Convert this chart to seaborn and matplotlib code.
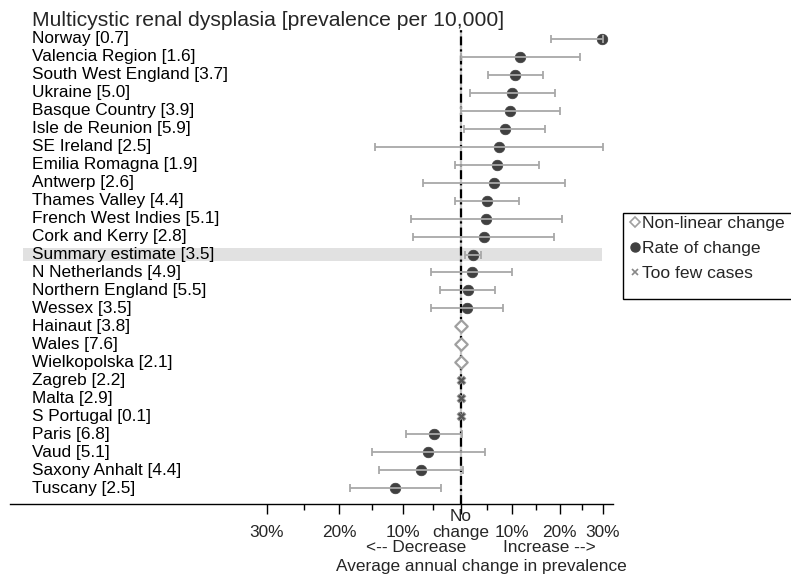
import numpy as np
import pandas as pd
import matplotlib
matplotlib.use("Agg")
import matplotlib.pyplot as plt
from matplotlib.lines import Line2D
from matplotlib.patches import Rectangle
from matplotlib.transforms import blended_transform_factory
import seaborn as sns

# Registries, with prevalence per 10,000 shown in brackets
regions = ["Norway", "Valencia Region", "South West England", "Ukraine",
           "Basque Country", "Isle de Reunion", "SE Ireland", "Emilia Romagna",
           "Antwerp", "Thames Valley", "French West Indies", "Cork and Kerry",
           "Summary estimate", "N Netherlands", "Northern England", "Wessex",
           "Hainaut", "Wales", "Wielkopolska", "Zagreb", "Malta", "S Portugal",
           "Paris", "Vaud", "Saxony Anhalt", "Tuscany"]
prevalence = [0.7, 1.6, 3.7, 5.0, 3.9, 5.9, 2.5, 1.9, 2.6, 4.4, 5.1, 2.8, 3.5,
              4.9, 5.5, 3.5, 3.8, 7.6, 2.1, 2.2, 2.9, 0.1, 6.8, 5.1, 4.4, 2.5]
kind = (["Rate of change"] * 16 + ["Non-linear change"] * 3
        + ["Too few cases"] * 3 + ["Rate of change"] * 4)

# Average annual change in prevalence (%) with 95% interval
change = [29.8, 11.6, 10.6, 10.0, 9.5, 8.5, 7.3, 6.9, 6.4, 4.9, 4.8, 4.4, 2.4,
          2.1, 1.3, 1.2, 0.0, 0.0, 0.0, 0.0, 0.0, 0.0, -4.7, -5.8, -7.1, -11.3]
lower = [18.1, 0.0, 5.1, 1.7, 0.0, 0.7, -14.6, -1.1, -6.6, -1.0, -8.7, -8.3, 0.8,
         -5.3, -3.7, -5.3, np.nan, np.nan, np.nan, np.nan, np.nan, np.nan,
         -9.5, -15.1, -14.0, -18.4]
upper = [30.0, 24.5, 16.5, 18.9, 20.0, 16.9, 30.0, 15.6, 21.2, 11.4, 20.6, 18.8, 3.9,
         10.0, 6.6, 8.1, np.nan, np.nan, np.nan, np.nan, np.nan, np.nan,
         0.2, 4.6, 0.4, -3.5]

tick_pct = [-30, -20, -10, 0, 10, 20, 30]
tick_labels = ["30%", "20%", "10%", "No\nchange", "10%", "20%", "30%"]
minor_pct = [-25, -15, -5, 5, 15, 25]

sns.set_style("white")
plt.rcParams["font.family"] = ["Liberation Sans", "DejaVu Sans"]

FS = 12.4

df = pd.DataFrame({"region": regions, "prev": prevalence, "kind": kind,
                   "change": change, "lower": lower, "upper": upper})
df["row"] = np.arange(len(df))
# changes are plotted on the log ratio scale
df["x"] = np.log1p(df["change"] / 100)
df["xlo"] = np.log1p(df["lower"] / 100)
df["xhi"] = np.log1p(df["upper"] / 100)

W, H = 791, 575
fig = plt.figure(figsize=(W / 100, H / 100), dpi=100)
ax = fig.add_axes([10 / W, 1 - 504 / H, 603 / W, 474 / H])

# highlight band for the pooled estimate
srow = df.loc[df["region"] == "Summary estimate", "row"].iloc[0]
ax.axhspan(srow - 0.34, srow + 0.34, xmin=13 / 603, xmax=592 / 603,
           color="#e1e1e1", lw=0, zorder=0)

# reference line at no change
ax.axvline(0, color="#c4c4c4", lw=1.6, zorder=1)
ax.axvline(0, color="black", lw=1.6, dashes=(4, 1.8, 1, 1.8), zorder=1)

rc = df[df["kind"] == "Rate of change"]
sns.scatterplot(data=rc, x="x", y="row", color="#404040", marker="o", s=58,
                edgecolor="#404040", linewidth=0.5, ax=ax, zorder=3, legend=False)
nl = df[df["kind"] == "Non-linear change"]
sns.scatterplot(data=nl, x="x", y="row", marker="D", s=40, facecolor="white",
                edgecolor="#a0a0a0", linewidth=1.6, ax=ax, zorder=3, legend=False)
tf = df[df["kind"] == "Too few cases"]
sns.scatterplot(data=tf, x="x", y="row", marker="X", s=40, color="#555555",
                edgecolor="#9a9a9a", linewidth=0.6, ax=ax, zorder=3, legend=False)

ci = rc.dropna(subset=["xlo", "xhi"])
ax.errorbar(ci["x"], ci["row"],
            xerr=[ci["x"] - ci["xlo"], ci["xhi"] - ci["x"]],
            fmt="none", ecolor="#a8a8a8", elinewidth=1.3, capsize=2.7,
            capthick=1.3, zorder=4)

# row labels inside the plotting area
lab_tr = blended_transform_factory(ax.transAxes, ax.transData)
for r, name, p in zip(df["row"], df["region"], df["prev"]):
    ax.text(22 / 603, r, f"{name} [{p:.1f}]", transform=lab_tr,
            ha="left", va="center", fontsize=FS, color="black")

ax.set_xlim(-0.8297, 0.2808)
ax.set_ylim(25.89, -0.50)
ax.set_yticks([])
ax.set_xticks(np.log1p(np.array(tick_pct) / 100))
ax.set_xticklabels(tick_labels, fontsize=FS)
ax.set_xticks(np.log1p(np.array(minor_pct) / 100), minor=True)
ax.tick_params(axis="x", which="major", direction="out", length=7, width=1,
               color="black", pad=19, bottom=True)
ax.tick_params(axis="x", which="minor", direction="out", length=4, width=1,
               color="black", bottom=True)
for lbl in ax.get_xticklabels():
    lbl.set_verticalalignment("bottom")
    lbl.set_linespacing(1.1)
for side in ["top", "right", "left"]:
    ax.spines[side].set_visible(False)
ax.spines["bottom"].set_color("black")
ax.spines["bottom"].set_linewidth(1)
ax.set_xlabel("")
ax.set_ylabel("")
ax.patch.set_alpha(0)

fig.text(32 / W, 1 - 21 / H, "Multicystic renal dysplasia [prevalence per 10,000]",
         ha="left", va="center", fontsize=15.2)
fig.text(416 / W, 1 - 548 / H, "<-- Decrease", ha="center", va="center", fontsize=FS)
fig.text(549 / W, 1 - 548 / H, "Increase -->", ha="center", va="center", fontsize=FS)
fig.text(481 / W, 1 - 567 / H, "Average annual change in prevalence",
         ha="center", va="center", fontsize=FS)

# legend box runs off the right edge
fig.patches.append(Rectangle((623 / W, 1 - 299 / H), 200 / W, 86 / H,
                             transform=fig.transFigure, facecolor="white",
                             edgecolor="black", lw=1, zorder=0))
handles = [
    Line2D([], [], ls="none", marker="D", ms=5.5, mfc="white", mec="#a0a0a0", mew=1.2),
    Line2D([], [], ls="none", marker="o", ms=6.5, mfc="#404040", mec="#404040"),
    Line2D([], [], ls="none", marker="x", ms=5, mec="#888888", mew=1.2),
]
fig.legend(handles, ["Non-linear change", "Rate of change", "Too few cases"],
           loc="upper left", bbox_to_anchor=(627 / W, 1 - 212 / H),
           frameon=False, fontsize=12.6, handlelength=0.5, handletextpad=0.15,
           labelspacing=0.56, borderpad=0.2, borderaxespad=0)

fig.savefig("out.png", dpi=100)
